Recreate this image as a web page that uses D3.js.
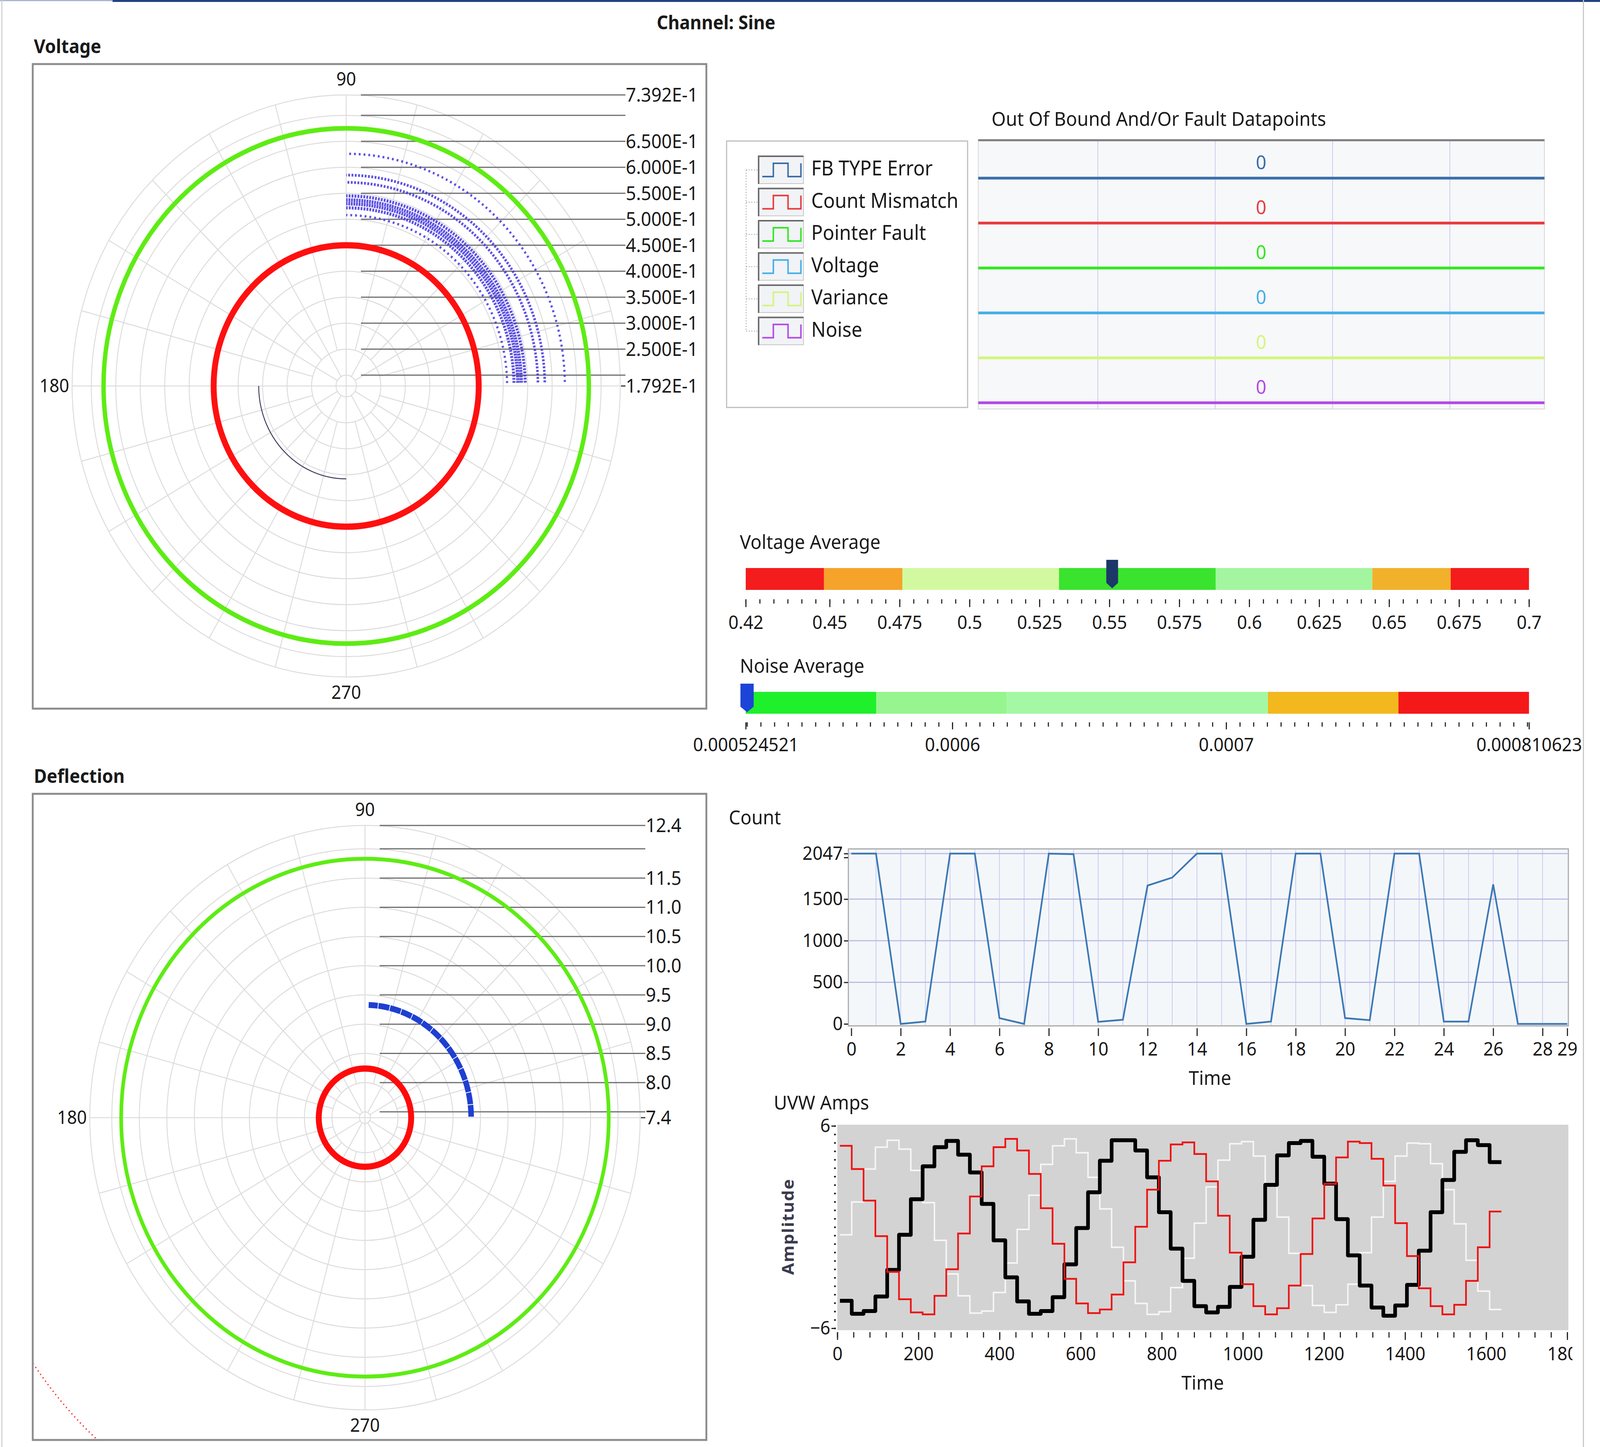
<!DOCTYPE html>
<html>
<head>
<meta charset="utf-8">
<script src="https://cdn.jsdelivr.net/npm/d3@7"></script>
<style>
  html, body { margin: 0; padding: 0; background: #fff; overflow: hidden; }
  #chart { display: block; width: 100vw; height: 100vh; }
  text { font-family: "Noto Sans", "Open Sans", sans-serif; fill: #1a1a1a; }
</style>
</head>
<body>
<svg id="chart"></svg>
<script>
const W = 4349, H = 3704;

// ---------------- data ----------------
const channelName = "Sine";

// voltage polar plot
const voltRange = [0.1792, 0.7392];
const voltTicks = [0.20, 0.25, 0.30, 0.35, 0.40, 0.45, 0.50, 0.55, 0.60, 0.65, 0.70];
const voltLimits = [0.45, 0.675];            // red, green rings
const voltTrail = [0.358, 180, 270];          // radius, from angle, to angle
const voltCloudR = [0.508, 0.522, 0.530, 0.537, 0.545, 0.571, 0.585, 0.626];
const voltCloudAngles = [1, 90];

// deflection polar plot
const deflRange = [7.4, 12.4];
const deflTicks = [7.5, 8.0, 8.5, 9.0, 9.5, 10.0, 10.5, 11.0, 11.5, 12.0];
const deflLimits = [8.24, 11.83];
const deflArc = [9.33, 0.5, 88];
const deflFarArc = [14.75, 200, 250];

// fault datapoints
const faultNames = ["FB TYPE Error", "Count Mismatch", "Pointer Fault", "Voltage", "Variance", "Noise"];
const faultCounts = [0, 0, 0, 0, 0, 0];

// averages
const voltAvgTicks = [0.42, 0.45, 0.475, 0.5, 0.525, 0.55, 0.575, 0.6, 0.625, 0.65, 0.675, 0.7];
const voltAvgBands = [0.42, 0.448, 0.476, 0.532, 0.588, 0.644, 0.672, 0.7];
const voltAvgValue = 0.551;
const noiseAvgTicks = [0.000524521, 0.0006, 0.0007, 0.000810623];
const noiseAvgBands = [0.000524521, 0.000572205, 0.000619888, 0.000715256, 0.000762939, 0.000810623];
const noiseAvgValue = 0.000525;

// count vs time
const countValues = [2047, 2047, 0, 28, 2047, 2047, 70, 0, 2047, 2040, 25, 50, 1663, 1759, 2047,
                     2047, 0, 28, 2047, 2047, 70, 45, 2047, 2047, 28, 28, 1676, 0, 0, 0];
const countYTicks = [0, 500, 1000, 1500, 2047];
const countXTicks = [0, 2, 4, 6, 8, 10, 12, 14, 16, 18, 20, 22, 24, 26, 28, 29];

// UVW amps (waveforms: t0, dt, Y)
const uvwT0 = 6.4, uvwDt = 29.13;
const ampU = [-4.37, -5.14, -4.98, -4.12, -2.54, -0.46, 1.65, 3.60, 4.74, 5.11, 4.29, 3.24, 1.37, -0.79,
              -2.98, -4.41, -5.14, -4.98, -4.16, -2.21, -0.06, 2.06, 3.93, 5.15, 5.15, 4.54, 2.95, 0.88,
              -1.28, -3.19, -4.69, -5.06, -4.73, -3.55, -1.76, 0.43, 2.50, 4.25, 4.98, 5.11, 4.17, 2.58,
              0.47, -1.68, -3.47, -4.77, -5.26, -4.65, -3.43, -1.40, 0.88, 2.79, 4.46, 5.15, 4.86, 3.85];
const ampV = [4.82, 3.44, 1.57, -0.54, -2.66, -4.28, -5.06, -5.18, -4.08, -2.50, -0.38, 1.81, 3.60, 4.74,
              5.23, 4.54, 3.15, 1.12, -0.99, -3.07, -4.53, -5.10, -4.89, -4.00, -2.09, 0.02, 2.22, 3.93,
              4.90, 5.02, 4.33, 2.71, 0.67, -1.52, -3.39, -4.69, -5.18, -4.81, -3.47, -1.60, 0.51, 2.56,
              4.13, 5.07, 4.98, 4.05, 2.46, 0.23, -1.72, -3.63, -4.69, -5.18, -4.61, -3.19, -1.20, 0.92];
const ampW = [-0.46, 1.49, 3.44, 4.74, 5.15, 4.62, 3.36, 1.45, -0.79, -2.78, -4.08, -5.10, -4.98, -3.88,
              -2.13, -0.14, 1.89, 3.72, 4.82, 5.23, 4.41, 2.95, 1.08, -1.20, -3.19, -4.53, -5.18, -5.02,
              -3.59, -1.85, 0.23, 2.38, 3.97, 4.94, 5.07, 4.21, 2.54, 0.59, -1.56, -3.47, -4.65, -5.06,
              -4.61, -3.39, -1.52, 0.59, 2.71, 4.21, 4.98, 4.94, 3.76, 2.22, 0.19, -1.97, -3.80, -4.89];

// ---------------- drawing ----------------
const svg = d3.select("#chart").attr("viewBox", [0, 0, W, H]).attr("preserveAspectRatio", "none");
svg.append("rect").attr("width", W).attr("height", H).attr("fill", "#fff");
const defs = svg.append("defs");

// window frame
svg.append("rect").attr("x", 0).attr("y", 0).attr("width", 306).attr("height", 3).attr("fill", "#a9b5cf");
svg.append("rect").attr("x", 306).attr("y", 0).attr("width", W - 306).attr("height", 5).attr("fill", "#22417f");
svg.append("line").attr("x1", 5).attr("x2", 5).attr("y1", 0).attr("y2", H).attr("stroke", "#cfcfcf").attr("stroke-width", 3);

svg.append("text").attr("x", 1785).attr("y", 75).attr("font-size", 48).attr("font-weight", 700)
  .text("Channel: " + channelName);

const rad = a => a * Math.PI / 180;
function arcPath(cx, cy, r, a0, a1) {
  const p = d3.path();
  p.arc(cx, cy, r, -rad(a0), -rad(a1), true);
  return p.toString();
}

function polarPanel(o) {
  const g = svg.append("g");
  const r = d3.scaleLinear().domain(o.range).range([0, o.R]);
  const [bx0, by0, bx1, by1] = o.box;

  g.append("text").attr("x", 92).attr("y", o.titleY).attr("font-size", 48).attr("font-weight", 700).text(o.title);
  g.append("rect").attr("x", bx0).attr("y", by0).attr("width", bx1 - bx0).attr("height", by1 - by0)
    .attr("fill", "#fff").attr("stroke", "#8c8c8c").attr("stroke-width", 5);

  defs.append("clipPath").attr("id", o.id).append("rect")
    .attr("x", bx0 + 3).attr("y", by0 + 3).attr("width", bx1 - bx0 - 6).attr("height", by1 - by0 - 6);

  // grid rings + spokes
  const rings = o.ticks.concat([o.range[1]]);
  g.append("g").selectAll("circle").data(rings).join("circle")
    .attr("cx", o.cx).attr("cy", o.cy).attr("r", d => r(d))
    .attr("fill", "none").attr("stroke", "#dcdcdc").attr("stroke-width", 2.5);
  g.append("g").selectAll("line").data(d3.range(0, 360, 15)).join("line")
    .attr("x1", a => o.cx + (a % 90 === 0 ? 0 : r(a % 30 === 0 ? o.ticks[0] : o.ticks[1])) * Math.cos(rad(a)))
    .attr("y1", a => o.cy - (a % 90 === 0 ? 0 : r(a % 30 === 0 ? o.ticks[0] : o.ticks[1])) * Math.sin(rad(a)))
    .attr("x2", a => o.cx + o.R * Math.cos(rad(a)))
    .attr("y2", a => o.cy - o.R * Math.sin(rad(a)))
    .attr("stroke", "#dcdcdc").attr("stroke-width", 2.5);

  // angle labels
  g.append("text").attr("x", o.cx).attr("y", o.cy - o.R - 24).attr("text-anchor", "middle").attr("font-size", 47).text("90");
  g.append("text").attr("x", o.cx - o.R - 8).attr("y", o.cy + 16).attr("text-anchor", "end").attr("font-size", 47).text("180");
  g.append("text").attr("x", o.cx).attr("y", o.cy + o.R + 56).attr("text-anchor", "middle").attr("font-size", 47).text("270");

  // radial scale: horizontal leader lines and labels
  const lineVals = o.ticks.concat([o.range[1]]);
  g.append("g").selectAll("line").data(lineVals).join("line")
    .attr("x1", o.cx + 40).attr("x2", o.lineEnd)
    .attr("y1", d => o.cy - r(d)).attr("y2", d => o.cy - r(d))
    .attr("stroke", "#6e6e6e").attr("stroke-width", 3);
  const labelVals = o.ticks.filter(t => !o.skip.includes(t)).concat([o.range[1]]);
  g.append("g").selectAll("text").data(labelVals).join("text")
    .attr("x", o.lineEnd + 1).attr("y", d => o.cy - r(d) + 17).attr("font-size", 49).text(o.fmt);
  g.append("line").attr("x1", o.lineEnd - 12).attr("x2", o.lineEnd).attr("y1", o.cy).attr("y2", o.cy)
    .attr("stroke", "#333").attr("stroke-width", 3);
  g.append("text").attr("x", o.lineEnd + 1).attr("y", o.cy + 17).attr("font-size", 49).text(o.fmt(o.range[0]));

  const plot = g.append("g").attr("clip-path", `url(#${o.id})`);
  return { plot, r };
}

// Voltage panel
const vp = polarPanel({
  id: "clipV", title: "Voltage", titleY: 136, box: [89, 164, 1920, 1814],
  cx: 941, cy: 988, R: 745, range: voltRange, ticks: voltTicks, skip: [0.20, 0.70],
  fmt: d => (d * 10).toFixed(3) + "E-1", lineEnd: 1700
});
vp.plot.append("path").attr("d", arcPath(941, 988, vp.r(voltTrail[0]), voltTrail[1], voltTrail[2]))
  .attr("fill", "none").attr("stroke", "#3d3d5c").attr("stroke-width", 2.5);
const cloudDash = ["5 8", "5 3", "5 2", "5 2", "5 3", "5 4", "5 4", "5 8"];
const cloudWidth = [6, 8, 9, 9, 8, 7, 7, 6];
vp.plot.append("g").selectAll("path").data(voltCloudR).join("path")
  .attr("d", d => arcPath(941, 988, vp.r(d), voltCloudAngles[0], voltCloudAngles[1]))
  .attr("fill", "none").attr("stroke", "#4a3ee2").attr("stroke-width", (d, i) => cloudWidth[i])
  .attr("stroke-dasharray", (d, i) => cloudDash[i]).attr("opacity", 0.9);
vp.plot.append("circle").attr("cx", 941).attr("cy", 988).attr("r", vp.r(voltLimits[0]))
  .attr("fill", "none").attr("stroke", "#ff1010").attr("stroke-width", 16);
vp.plot.append("circle").attr("cx", 941).attr("cy", 988).attr("r", vp.r(voltLimits[1]))
  .attr("fill", "none").attr("stroke", "#5eec14").attr("stroke-width", 12);

// Deflection panel
const dp = polarPanel({
  id: "clipD", title: "Deflection", titleY: 2004, box: [89, 2032, 1920, 3686],
  cx: 992, cy: 2861, R: 748, range: deflRange, ticks: deflTicks, skip: [7.5, 12.0],
  fmt: d => d.toFixed(1), lineEnd: 1754
});
dp.plot.append("path").attr("d", arcPath(992, 2861, dp.r(deflFarArc[0]), deflFarArc[1], deflFarArc[2]))
  .attr("fill", "none").attr("stroke", "#ff2020").attr("stroke-width", 3.5).attr("stroke-dasharray", "3 8");
dp.plot.append("path").attr("d", arcPath(992, 2861, dp.r(deflArc[0]), deflArc[1], deflArc[2]))
  .attr("fill", "none").attr("stroke", "#1f3fd1").attr("stroke-width", 15).attr("stroke-dasharray", "30 2");
dp.plot.append("circle").attr("cx", 992).attr("cy", 2861).attr("r", dp.r(deflLimits[0]))
  .attr("fill", "none").attr("stroke", "#ff0a0a").attr("stroke-width", 16);
dp.plot.append("circle").attr("cx", 992).attr("cy", 2861).attr("r", dp.r(deflLimits[1]))
  .attr("fill", "none").attr("stroke", "#5eec14").attr("stroke-width", 10);

// ---------- fault legend + digital chart ----------
const faultColors = ["#3a6ea8", "#e8393e", "#2fe81e", "#44aee8", "#d4f57c", "#b348e8"];
svg.append("text").attr("x", 2695).attr("y", 322).attr("font-size", 50).text("Out Of Bound And/Or Fault Datapoints");

svg.append("rect").attr("x", 1975).attr("y", 361).attr("width", 655).attr("height", 682)
  .attr("fill", "#fff").attr("stroke", "#bdbdbd").attr("stroke-width", 3);
const legY = i => 435 + i * 82.5;
svg.append("line").attr("x1", 2028).attr("x2", 2028).attr("y1", legY(0)).attr("y2", legY(5))
  .attr("stroke", "#b5b5b5").attr("stroke-width", 2.5).attr("stroke-dasharray", "3 4");
const leg = svg.append("g").selectAll("g").data(faultNames).join("g")
  .attr("transform", (d, i) => `translate(0,${legY(i)})`);
leg.append("line").attr("x1", 2028).attr("x2", 2062).attr("stroke", "#b5b5b5").attr("stroke-width", 2.5).attr("stroke-dasharray", "3 4");
leg.append("rect").attr("x", 2062).attr("y", -35).attr("width", 122).attr("height", 70)
  .attr("fill", "#f1f3f6").attr("stroke", "#c4c4c4").attr("stroke-width", 2);
leg.append("path").attr("d", "M2062,36 V-35 H2184").attr("fill", "none").attr("stroke", "#6b6b6b").attr("stroke-width", 4);
leg.append("path").attr("d", "M2072,17 H2102 V-17 H2142 V17 H2177 V-17")
  .attr("fill", "none").attr("stroke", (d, i) => faultColors[i]).attr("stroke-width", 4);
leg.append("text").attr("x", 2205).attr("y", 14).attr("font-size", 52).text(d => d);

const dx = d3.scaleLinear().domain([0, 5]).range([2665, 4260]);
const rows = d3.scaleBand().domain(faultNames).range([357, 1047]);
defs.append("clipPath").attr("id", "clipF").append("rect").attr("x", 2659).attr("y", 357).attr("width", 1539).attr("height", 690);
svg.append("rect").attr("x", 2659).attr("y", 357).attr("width", 1539).attr("height", 690)
  .attr("fill", "#f7f8fa").attr("stroke", "#d5d5d5").attr("stroke-width", 2);
const fplot = svg.append("g").attr("clip-path", "url(#clipF)");
fplot.append("g").selectAll("line").data([1, 2, 3, 4]).join("line")
  .attr("x1", d => dx(d)).attr("x2", d => dx(d)).attr("y1", 357).attr("y2", 1047)
  .attr("stroke", "#c9c9ef").attr("stroke-width", 2);
const rowY = (name, v) => d3.scaleLinear().domain([0, 1]).range([rows(name) + rows.bandwidth() - 16, rows(name) + 20])(v);
fplot.append("g").selectAll("line").data(faultNames).join("line")
  .attr("x1", dx(0) - 10).attr("x2", dx(5))
  .attr("y1", (d, i) => rowY(d, faultCounts[i])).attr("y2", (d, i) => rowY(d, faultCounts[i]))
  .attr("stroke", (d, i) => faultColors[i]).attr("stroke-width", 7);
fplot.append("g").selectAll("text").data(faultNames).join("text")
  .attr("x", 3428).attr("y", d => rows(d) + 76).attr("text-anchor", "middle").attr("font-size", 50)
  .style("fill", (d, i) => faultColors[i]).text((d, i) => faultCounts[i]);
svg.append("line").attr("x1", 2659).attr("x2", 4198).attr("y1", 359).attr("y2", 359).attr("stroke", "#7d7d7d").attr("stroke-width", 5);

// ---------- gauge bars ----------
function gauge(o) {
  const x = d3.scaleLinear().domain([o.bands[0], o.bands[o.bands.length - 1]]).range([2027, 4156]);
  svg.append("text").attr("x", 2011).attr("y", o.titleY).attr("font-size", 50).text(o.title);
  svg.append("g").selectAll("rect").data(d3.pairs(o.bands)).join("rect")
    .attr("x", d => x(d[0])).attr("width", d => x(d[1]) - x(d[0]))
    .attr("y", o.y).attr("height", 56).attr("fill", (d, i) => o.colors[i]);
  const axisMinor = d3.axisBottom(x).tickValues(o.minor).tickSize(o.minorLen).tickFormat("");
  const axisMajor = d3.axisBottom(x).tickValues(o.ticks).tickSize(o.majorLen).tickPadding(22).tickFormat(o.fmt);
  [axisMinor, axisMajor].forEach(ax => {
    const ga = svg.append("g").attr("transform", `translate(0,${o.axisY})`).call(ax);
    ga.select(".domain").remove();
    ga.selectAll("line").attr("stroke", "#222").attr("stroke-width", 3);
    ga.selectAll("text").attr("font-size", 48).attr("font-family", null).style("fill", "#1a1a1a");
  });
  const px = x(o.value);
  svg.append("path")
    .attr("d", `M${px - o.pw},${o.y - 21} H${px + o.pw} V${o.y + 38} L${px},${o.y + 52} L${px - o.pw},${o.y + 38} Z`)
    .attr("fill", o.pcolor);
}
gauge({
  title: "Voltage Average", titleY: 1405, y: 1454, axisY: 1534, bands: voltAvgBands,
  colors: ["#f41c1c", "#f5a32a", "#d3f9a0", "#3ae32e", "#a3f59f", "#f2b12a", "#f41c1c"],
  ticks: voltAvgTicks, minor: d3.range(0, 57).map(i => 0.42 + i * 0.005), majorLen: 20, minorLen: 11,
  fmt: d => String(+d.toFixed(3)), value: voltAvgValue, pcolor: "#1d3769", pw: 16
});
gauge({
  title: "Noise Average", titleY: 1722, y: 1771, axisY: 1849, bands: noiseAvgBands,
  colors: ["#1ef02b", "#96f58e", "#a4f8a4", "#f2b81d", "#f51818"],
  ticks: noiseAvgTicks, minor: d3.range(105, 163).map(i => i * 0.000005), majorLen: 18, minorLen: 11,
  fmt: d => String(d), value: noiseAvgValue, pcolor: "#1c44d6", pw: 18
});

// ---------- count chart ----------
const xC = d3.scaleLinear().domain([0, 29]).range([2314, 4260]);
const yC = d3.scaleLinear().domain([0, 2047]).range([2621, 2185]);
svg.append("text").attr("x", 1981).attr("y", 2110).attr("font-size", 50).text("Count");
svg.append("rect").attr("x", 2306).attr("y", 2173).attr("width", 1957).attr("height", 453)
  .attr("fill", "#f4f7fa").attr("stroke", "#a8a8a8").attr("stroke-width", 3);
svg.append("g").selectAll("line").data(d3.range(1, 29)).join("line")
  .attr("x1", d => xC(d)).attr("x2", d => xC(d)).attr("y1", 2175).attr("y2", 2624)
  .attr("stroke", "#c9c9ef").attr("stroke-width", 2);
svg.append("g").selectAll("line").data(countYTicks.slice(1)).join("line")
  .attr("x1", 2308).attr("x2", 4261).attr("y1", d => yC(d)).attr("y2", d => yC(d))
  .attr("stroke", "#bdbde6").attr("stroke-width", 3);
svg.append("path").datum(countValues)
  .attr("d", d3.line().x((d, i) => xC(i)).y(d => yC(d)))
  .attr("fill", "none").attr("stroke", "#3c78b4").attr("stroke-width", 4.5);
{
  const gy = svg.append("g").attr("transform", "translate(2305,0)")
    .call(d3.axisLeft(yC).tickValues(countYTicks.concat([2000])).tickSize(11).tickPadding(3)
      .tickFormat(d => d === 2000 ? "" : d));
  gy.select(".domain").remove();
  gy.selectAll("line").attr("stroke", "#222").attr("stroke-width", 3);
  gy.selectAll("text").attr("font-size", 48).attr("font-family", null).style("fill", "#1a1a1a");
  const gx = svg.append("g").attr("transform", "translate(0,2632)")
    .call(d3.axisBottom(xC).tickValues(countXTicks).tickSize(20).tickPadding(16));
  gx.select(".domain").remove();
  gx.selectAll("line").attr("stroke", "#222").attr("stroke-width", 3);
  gx.selectAll("text").attr("font-size", 48).attr("font-family", null).style("fill", "#1a1a1a");
}
svg.append("text").attr("x", 3289).attr("y", 2777).attr("text-anchor", "middle").attr("font-size", 50).text("Time");

// ---------- UVW amps ----------
const xU = d3.scaleLinear().domain([0, 1800]).range([2276, 4260]);
const yU = d3.scaleLinear().domain([-6, 6]).range([3400, 2882]);
svg.append("text").attr("x", 2103).attr("y", 2840).attr("font-size", 50).text("UVW Amps");
svg.append("rect").attr("x", 2276).attr("y", 2879).attr("width", 1987).attr("height", 526).attr("fill", "#d3d3d3");
const stepLine = d3.line().x((d, i) => xU(uvwT0 + i * uvwDt)).y(d => yU(d)).curve(d3.curveStepAfter);
const withEnd = a => a.concat([a[a.length - 1]]);
svg.append("path").datum(withEnd(ampW)).attr("d", stepLine)
  .attr("fill", "none").attr("stroke", "#f6f6f6").attr("stroke-width", 4);
svg.append("path").datum(withEnd(ampU)).attr("d", stepLine)
  .attr("fill", "none").attr("stroke", "#000").attr("stroke-width", 10).attr("stroke-linejoin", "round");
svg.append("path").datum(withEnd(ampV)).attr("d", stepLine)
  .attr("fill", "none").attr("stroke", "#ee1111").attr("stroke-width", 4.5);
{
  const gyMinor = svg.append("g").attr("transform", "translate(2272,0)")
    .call(d3.axisLeft(yU).tickValues(d3.range(-12, 13).map(i => i * 0.5)).tickSize(5).tickFormat(""));
  gyMinor.select(".domain").remove();
  gyMinor.selectAll("line").attr("stroke", "#222").attr("stroke-width", 4);
  const gy = svg.append("g").attr("transform", "translate(2272,0)")
    .call(d3.axisLeft(yU).tickValues([-6, 6]).tickSize(12).tickPadding(3));
  gy.select(".domain").remove();
  gy.selectAll("line").attr("stroke", "#222").attr("stroke-width", 3);
  gy.selectAll("text").attr("font-size", 48).attr("font-family", null).style("fill", "#1a1a1a");

  defs.append("clipPath").attr("id", "clipU").append("rect").attr("x", 2150).attr("y", 3380).attr("width", 2124).attr("height", 150);
  const gxMinor = svg.append("g").attr("transform", "translate(0,3410)")
    .call(d3.axisBottom(xU).tickValues(d3.range(0, 46).map(i => i * 40)).tickSize(14).tickFormat(""));
  gxMinor.select(".domain").remove();
  gxMinor.selectAll("line").attr("stroke", "#222").attr("stroke-width", 3);
  const gx = svg.append("g").attr("clip-path", "url(#clipU)").append("g").attr("transform", "translate(0,3410)")
    .call(d3.axisBottom(xU).tickValues(d3.range(0, 10).map(i => i * 200)).tickSize(20).tickPadding(18)
      .tickFormat(d3.format("d")));
  gx.select(".domain").remove();
  gx.selectAll("line").attr("stroke", "#222").attr("stroke-width", 3);
  gx.selectAll("text").attr("font-size", 48).attr("font-family", null).style("fill", "#1a1a1a");
}
svg.append("text").attr("x", 3269).attr("y", 3557).attr("text-anchor", "middle").attr("font-size", 50).text("Time");
svg.append("text").attr("transform", "translate(2157,3140) rotate(-90)").attr("text-anchor", "middle")
  .attr("font-size", 44).attr("font-weight", 700).attr("letter-spacing", 2).style("fill", "#3b3b4f").text("Amplitude");

// right panel edge
svg.append("line").attr("x1", 4304).attr("x2", 4304).attr("y1", 0).attr("y2", H).attr("stroke", "#c6c6c6").attr("stroke-width", 3);
</script>
</body>
</html>
